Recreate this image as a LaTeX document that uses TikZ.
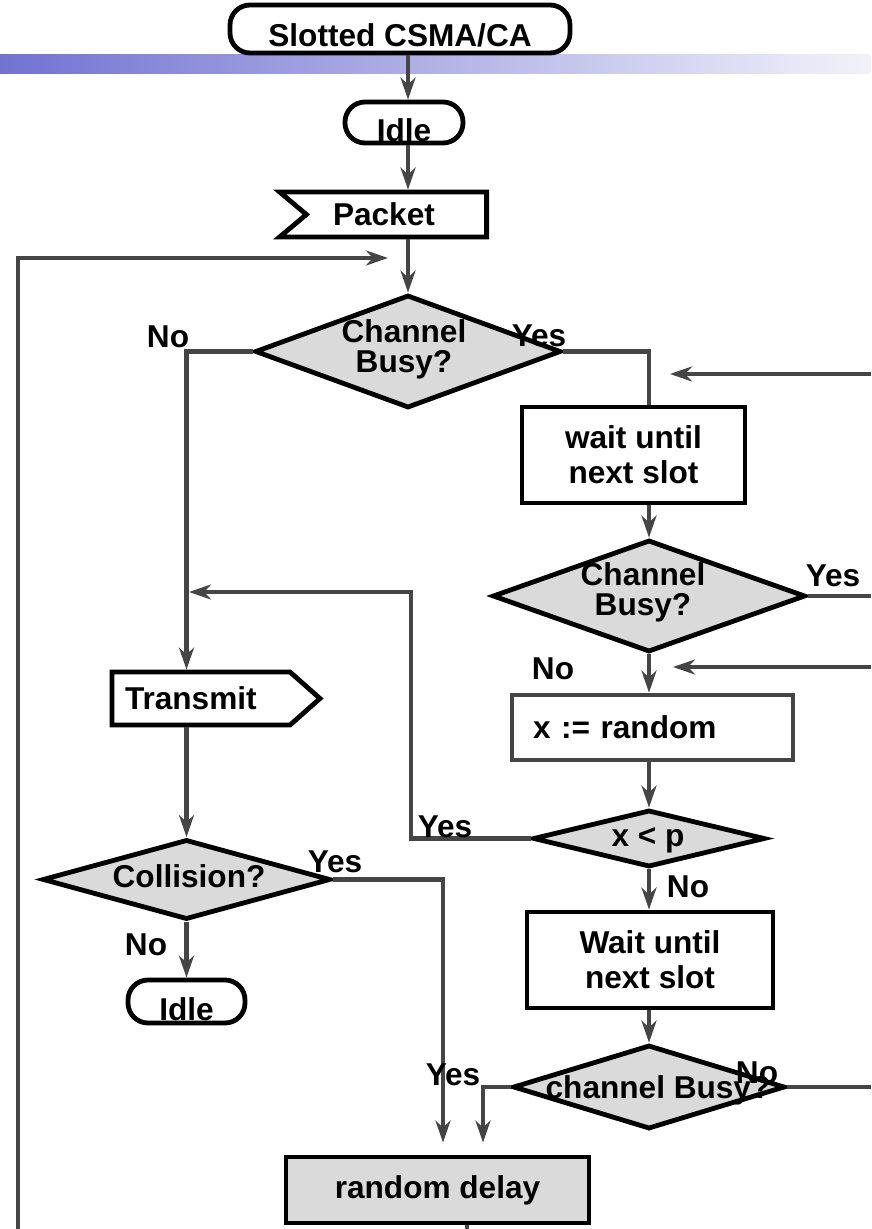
\documentclass[tikz,border=0pt]{standalone}
\usepackage{fontspec}
\setmainfont{Liberation Sans}
\usepackage{tikz}
\usetikzlibrary{arrows.meta,positioning,shapes.geometric,shapes.symbols}
\definecolor{flowgray}{HTML}{454545}
\definecolor{decfill}{HTML}{DADADA}
\definecolor{barblue}{HTML}{7272D2}
\definecolor{barpale}{HTML}{F2F2FA}
\newcommand{\flowfont}{\fontsize{15.8pt}{17.5pt}\selectfont\bfseries}
\newcommand{\decfont}{\fontsize{15.8pt}{15pt}\selectfont\bfseries}

\begin{document}
\begin{tikzpicture}[
  x=0.5pt, y=-0.5pt,
  term/.style    ={draw=black, line width=2.4pt, rounded corners=10pt, fill=white, inner sep=0pt, text depth=0pt, font=\flowfont},
  proc/.style    ={draw=black, line width=2.4pt, fill=white, inner sep=0pt, align=center, font=\flowfont},
  decision/.style={diamond, draw=black, line width=2.4pt, fill=decfill, inner sep=0pt},
  dectext/.style ={align=center, inner sep=0pt, font=\decfont},
  sig/.style     ={signal, draw=black, line width=2.4pt, fill=white, inner sep=0pt, align=left, font=\flowfont},
  answer/.style  ={inner sep=0pt, text height=11.3pt, text depth=0pt, font=\flowfont},
  flow/.style    ={draw=flowgray, line width=2.2pt, -{Stealth[length=11pt,width=7.5pt,inset=3.5pt]}},
  link/.style    ={draw=flowgray, line width=2.2pt},
]
  \useasboundingbox (0,0) rectangle (871,1229);

  % header bar
  \fill[left color=barblue, right color=barpale] (0,55) rectangle (871,74);

  % main column
  \node[term, minimum width=170pt, minimum height=24pt, text height=18pt] (title) at (400,29) {Slotted CSMA/CA};
  \node[term, minimum width=59pt, minimum height=20.5pt, text height=19.5pt] (idle1) at (404,122.5) {Idle};
  \node[sig, signal from=west, signal to=nowhere, signal pointer angle=80, minimum width=103.5pt, minimum height=22.5pt, text width=63.5pt] (packet) at (396.5,214.5) {Packet};
  \node[decision, minimum width=153pt, minimum height=56.5pt] (busy1) at (408,351.5) {};
  \node[dectext] (busy1-txt) at (404,349) {Channel\\Busy?};

  % right column
  \node[proc, minimum width=111.5pt, minimum height=48pt] (wait1) at (633.5,455) {wait until\\next slot};
  \node[decision, minimum width=156.5pt, minimum height=56pt] (busy2) at (649,596) {};
  \node[dectext] (busy2-txt) at (643,592) {Channel\\Busy?};
  \node[proc, draw=flowgray, minimum width=140.5pt, minimum height=32.5pt, text width=119.5pt, align=left] (rand) at (652.5,727.5) {x := random};
  \node[decision, minimum width=116pt, minimum height=28.5pt] (less) at (649,838.5) {};
  \node[dectext] (less-txt) at (648,840) {x < p};
  \node[proc, minimum width=123pt, minimum height=48pt] (wait2) at (650,960) {Wait until\\next slot};
  \node[decision, minimum width=136pt, minimum height=42pt] (busy3) at (649,1087) {};
  \node[dectext] (busy3-txt) at (658,1090) {channel Busy?};
  \node[proc, fill=decfill, minimum width=151.5pt, minimum height=33pt] (delay) at (437.5,1190) {random delay};

  % left column
  \node[sig, signal to=east, signal pointer angle=83, minimum width=104pt, minimum height=26.5pt, text width=76pt] (transmit) at (201,698.5) {Transmit};
  \node[decision, minimum width=144pt, minimum height=40pt] (coll) at (186.5,879.5) {};
  \node[dectext] (coll-txt) at (189,876) {Collision?};
  \node[term, minimum width=58.5pt, minimum height=21.5pt, text height=18.5pt] (idle2) at (186.5,1001.5) {Idle};

  % loose ends
  \coordinate (lcol) at (186.5,0);
  \coordinate (rcol) at (649,0);
  \coordinate (ycol) at (483,0);
  \coordinate (ccol) at (443,0);
  \coordinate (loopfoot) at (18,1229);
  \coordinate (looptip) at (388,258);
  \coordinate (backin) at (871,374);
  \coordinate (backtip) at (670,374);
  \coordinate (busy2out) at (871,596);
  \coordinate (reentry) at (871,667);
  \coordinate (reentrytip) at (673,667);
  \coordinate (yesturn) at (411,592);
  \coordinate (yestip) at (189,592);
  \coordinate (busy3out) at (871,1087);
  \coordinate (delayout) at (467,1229);

  \draw[flow] (title.south -| busy1.north) -- (idle1.north -| busy1.north);
  \draw[flow] (idle1.south -| busy1.north) -- (packet.north -| busy1.north);
  \draw[flow] (packet.south -| busy1.north) -- (busy1.north);
  \draw[flow] (loopfoot) |- (looptip);
  \draw[flow] (busy1.west) -| (transmit.north -| lcol);
  \draw[link] (busy1.east) -| (wait1.north -| rcol);
  \draw[flow] (backin) -- (backtip);
  \draw[flow] (wait1.south -| rcol) -- (busy2.north);
  \draw[link] (busy2.east) -- (busy2out);
  \draw[flow] (reentry) -- (reentrytip);
  \draw[flow] (busy2.south) -- (busy2.south |- rand.north);
  \draw[flow] (rand.south -| less.north) -- (less.north);
  \draw[flow] (less.west) -| (yesturn) -- (yestip);
  \draw[flow] (less.south) -- (less.south |- wait2.north);
  \draw[flow] (wait2.south -| busy3.north) -- (busy3.north);
  \draw[link] (busy3.east) -- (busy3out);
  \draw[flow, shorten >=6pt] (busy3.west) -| (delay.north -| ycol);
  \draw[flow] (transmit.south -| lcol) -- (coll.north);
  \draw[flow, shorten >=6pt] (coll.east) -| (delay.north -| ccol);
  \draw[flow] (coll.south) -- (idle2.north);
  \draw[link] (delay.south -| delayout) -- (delayout);

  % answers
  \node[answer] (no1)  at (168,336)  {No};
  \node[answer] (yes1) at (539,335)  {Yes};
  \node[answer] (yes2) at (833,575)  {Yes};
  \node[answer] (no2)  at (553,668)  {No};
  \node[answer] (yes3) at (445,826)  {Yes};
  \node[answer] (no3)  at (688,886)  {No};
  \node[answer] (yes4) at (335,861)  {Yes};
  \node[answer] (no4)  at (146,944)  {No};
  \node[answer] (yes5) at (453,1074) {Yes};
  \node[answer] (no5)  at (757,1072) {No};
\end{tikzpicture}
\end{document}
